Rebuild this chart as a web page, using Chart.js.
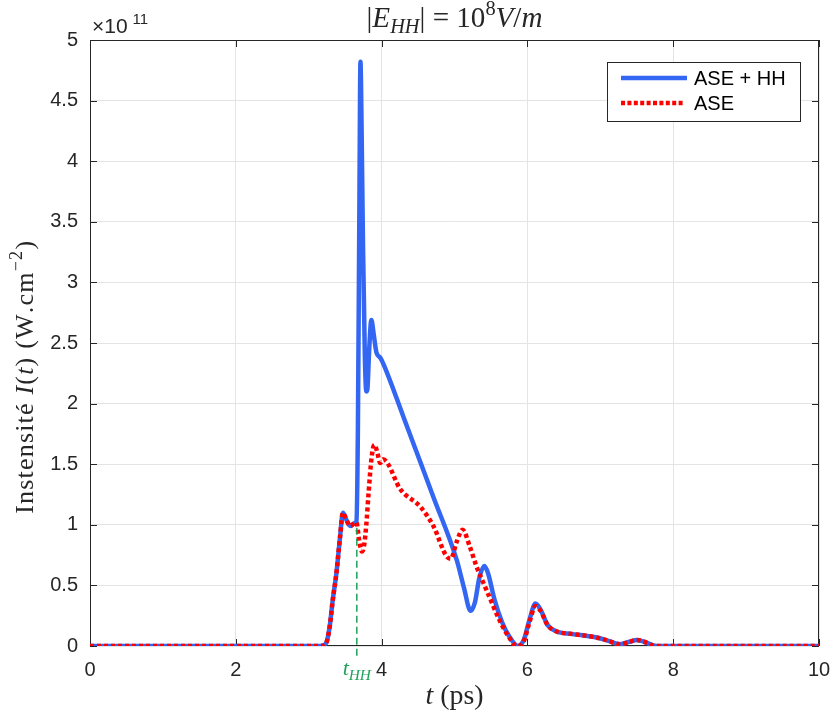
<!DOCTYPE html>
<html><head><meta charset="utf-8">
<script src="https://cdn.jsdelivr.net/npm/chart.js@4/dist/chart.umd.min.js"></script>
<style>html,body{margin:0;padding:0;background:#fff;}canvas{display:block;}</style>
</head><body>
<canvas id="c" width="831" height="713"></canvas>
<script>
// ---- data (intensity in units of 1e11 W.cm^-2, time in ps) ----
const seriesLabels = ['ASE + HH', 'ASE'];
const tASEHH = [0,3.15,3.22,3.25,3.29,3.33,3.38,3.43,3.47,3.51,3.57,3.62,3.655,3.675,3.695,3.71,3.725,3.745,3.77,3.79,3.805,3.83,3.86,3.89,3.93,3.98,4.03,4.3,4.53,4.71,5.03,5.13,5.22,5.28,5.34,5.41,5.46,5.55,5.65,5.75,5.87,5.95,6.03,6.11,6.18,6.28,6.4,6.6,6.8,6.95,7.1,7.27,7.4,7.5,7.6,7.77,8,10];
const iASEHH = [0,0,0.01,0.04,0.17,0.38,0.6,0.9,1.1,1.05,0.99,1.01,1.03,1.8,3.6,4.82,4.3,3.3,2.4,2.1,2.12,2.45,2.69,2.58,2.42,2.38,2.32,1.89,1.52,1.23,0.71,0.48,0.29,0.36,0.56,0.66,0.6,0.38,0.2,0.08,0,0.05,0.22,0.35,0.3,0.17,0.12,0.1,0.085,0.07,0.045,0.015,0.035,0.05,0.035,0,0,0];
const tASE = [0,3.15,3.22,3.25,3.29,3.33,3.38,3.43,3.47,3.51,3.57,3.62,3.655,3.69,3.73,3.76,3.79,3.82,3.86,3.9,3.94,3.98,4.02,4.08,4.25,4.53,4.71,4.89,4.95,5.03,5.11,5.21,5.3,5.44,5.62,5.75,5.85,5.95,6.03,6.11,6.18,6.28,6.4,6.6,6.8,6.95,7.1,7.27,7.4,7.5,7.6,7.77,8,10];
const iASE = [0,0,0.01,0.04,0.17,0.38,0.6,0.9,1.1,1.05,0.99,1.01,1.02,0.88,0.78,0.83,1.0,1.25,1.54,1.66,1.6,1.51,1.54,1.51,1.3,1.15,0.99,0.74,0.72,0.86,0.96,0.82,0.66,0.46,0.21,0.07,0,0.04,0.2,0.33,0.29,0.17,0.12,0.1,0.085,0.07,0.045,0.015,0.035,0.05,0.035,0,0,0];
const tHH = 3.66;          // time of HH injection (marker)
const tHHMarkY = [-0.08, 1.0]; // vertical extent of the marker
const xTickValues = [0,2,4,6,8,10];
const yTickValues = [0,0.5,1,1.5,2,2.5,3,3.5,4,4.5,5];

const BLUE = '#3366f2', RED = '#ff0000', GREEN = '#1fa25a', INK = '#262626';
const SANS = '"Liberation Sans", Arial, sans-serif';
const SERIF = '"Liberation Serif", "Times New Roman", serif';

function pts(xs, ys){ return xs.map((x,i)=>({x:x, y:ys[i]})); }

// rich text: parts = [text, style('r'|'i'), scale, dy]; sp = extra px per character
function richWidth(ctx, parts, size, sp){
  sp = sp || 0; let w = 0;
  for (const p of parts){ ctx.font = (p[1]==='i'?'italic ':'') + (size*(p[2]||1)) + 'px ' + SERIF; w += ctx.measureText(p[0]).width + sp*p[0].length; }
  return w;
}
function drawRich(ctx, parts, size, x, y, align, color, sp){
  sp = sp || 0;
  const w = richWidth(ctx, parts, size, sp);
  let cx = align==='center' ? x - w/2 : x;
  ctx.fillStyle = color; ctx.textBaseline = 'alphabetic'; ctx.textAlign = 'left';
  for (const p of parts){
    ctx.font = (p[1]==='i'?'italic ':'') + (size*(p[2]||1)) + 'px ' + SERIF;
    for (const ch of p[0]){
      ctx.fillText(ch, cx, y + (p[3]||0)*size);
      cx += ctx.measureText(ch).width + sp;
    }
  }
}
function fitSize(ctx, parts, target){ return 20 * target / richWidth(ctx, parts, 20); }

const decorPlugin = {
  id: 'decor',
  beforeDatasetsDraw(chart){
    const {ctx, chartArea:a, scales:{x, y}} = chart;
    ctx.save();
    ctx.strokeStyle = INK; ctx.lineWidth = 1;
    ctx.strokeRect(a.left+0.5, a.top+0.5, a.right-a.left-1, a.bottom-a.top-1);
    const tl = 7;
    ctx.beginPath();
    for (const v of xTickValues){
      const px = Math.round(x.getPixelForValue(v))+0.5;
      ctx.moveTo(px, a.bottom); ctx.lineTo(px, a.bottom-tl);
      ctx.moveTo(px, a.top); ctx.lineTo(px, a.top+tl);
    }
    for (const v of yTickValues){
      const py = Math.round(y.getPixelForValue(v))+0.5;
      ctx.moveTo(a.left, py); ctx.lineTo(a.left+tl, py);
      ctx.moveTo(a.right, py); ctx.lineTo(a.right-tl, py);
    }
    ctx.stroke();
    ctx.restore();
  },
  afterDraw(chart){
    const {ctx, chartArea:a} = chart;
    ctx.save();
    // x10^11
    ctx.fillStyle = INK; ctx.textBaseline = 'alphabetic'; ctx.textAlign = 'left';
    ctx.font = '21px ' + SANS; ctx.fillText('\u00d710', a.left+2, 33);
    const w10 = ctx.measureText('\u00d710').width;
    ctx.font = '15px ' + SANS; ctx.fillText('11', a.left+2+w10+5, 24);
    // title
    const title = [['|','r'],['E','i'],['HH','i',0.7,0.22],['| = 10','r'],['8','r',0.7,-0.4],['V','i'],['/','r'],['m','i']];
    drawRich(ctx, title, fitSize(ctx, title, 176), (a.left+a.right)/2, 27, 'center', INK);
    // x label
    const xl = [['t','i'],[' (ps)','r']];
    drawRich(ctx, xl, fitSize(ctx, xl, 58), (a.left+a.right)/2, 704, 'center', INK);
    // y label
    const yl = [['Instensit\u00e9 ','r'],['I','i'],['(','r'],['t','i'],[') (W.cm','r'],['\u22122','r',0.7,-0.42],[')','r']];
    const ySize = 26;
    const nch = yl.reduce((s,p)=>s+p[0].length,0);
    const ySp = Math.min(1.2, Math.max(0, (338 - richWidth(ctx, yl, ySize)) / nch));
    ctx.save(); ctx.translate(33, 378); ctx.rotate(-Math.PI/2);
    drawRich(ctx, yl, ySize, 0, 0, 'center', INK, ySp);
    ctx.restore();
    // t_HH label
    const th = [['t','i'],['HH','i',0.7,0.22]];
    drawRich(ctx, th, 22, chart.scales.x.getPixelForValue(tHH), 675, 'center', GREEN);
    // legend
    const lx = 607, ly = 62, lw = 193, lh = 59;
    ctx.fillStyle = '#fff'; ctx.fillRect(lx, ly, lw, lh);
    ctx.strokeStyle = INK; ctx.lineWidth = 1; ctx.strokeRect(lx+0.5, ly+0.5, lw, lh);
    ctx.lineWidth = 4.5;
    ctx.strokeStyle = BLUE; ctx.setLineDash([]);
    ctx.beginPath(); ctx.moveTo(621, 78); ctx.lineTo(687, 78); ctx.stroke();
    ctx.strokeStyle = RED; ctx.setLineDash([4,2.4]);
    ctx.beginPath(); ctx.moveTo(621, 103); ctx.lineTo(685, 103); ctx.stroke();
    ctx.setLineDash([]);
    ctx.fillStyle = '#000'; ctx.font = '20px ' + SANS; ctx.textBaseline = 'middle';
    ctx.fillText(seriesLabels[0], 694, 79);
    ctx.fillText(seriesLabels[1], 694, 104);
    ctx.restore();
  }
};

new Chart(document.getElementById('c'), {
  type: 'line',
  data: {
    datasets: [
      { label: seriesLabels[0], data: pts(tASEHH, iASEHH), borderColor: BLUE, borderWidth: 4.5,
        pointRadius: 0, cubicInterpolationMode: 'monotone', order: 2, borderJoinStyle: 'round', borderCapStyle: 'round' },
      { label: seriesLabels[1], data: pts(tASE, iASE), borderColor: RED, borderWidth: 4.5, borderDash: [4,3],
        pointRadius: 0, cubicInterpolationMode: 'monotone', order: 1 },
      { label: 'tHH', data: [{x:tHH, y:tHHMarkY[0]},{x:tHH, y:tHHMarkY[1]}], borderColor: GREEN, borderWidth: 1.5,
        borderDash: [7,4], pointRadius: 0, order: 0, clip: false }
    ]
  },
  options: {
    responsive: false, animation: false, devicePixelRatio: 1,
    layout: { padding: { top: 40, right: 12, left: 0, bottom: 0 } },
    plugins: { legend: { display: false }, tooltip: { enabled: false } },
    scales: {
      x: { type: 'linear', min: 0, max: 10,
        afterFit(s){ s.height = 67; s.paddingLeft = 0; s.paddingRight = 0; },
        afterBuildTicks(s){ s.ticks = xTickValues.map(v=>({value:v})); },
        ticks: { font: { size: 20, family: SANS }, color: INK, padding: 12, maxRotation: 0, callback: v => String(v) },
        grid: { color: '#e4e4e4', lineWidth: 1, drawTicks: false }, border: { display: false } },
      y: { min: 0, max: 5,
        afterFit(s){ s.width = 90; s.paddingTop = 0; s.paddingBottom = 0; },
        afterBuildTicks(s){ s.ticks = yTickValues.map(v=>({value:v})); },
        ticks: { font: { size: 20, family: SANS }, color: INK, padding: 12, callback: v => String(Math.round(v*10)/10) },
        grid: { color: '#e4e4e4', lineWidth: 1, drawTicks: false }, border: { display: false } }
    }
  },
  plugins: [decorPlugin]
});
</script>
</body></html>
